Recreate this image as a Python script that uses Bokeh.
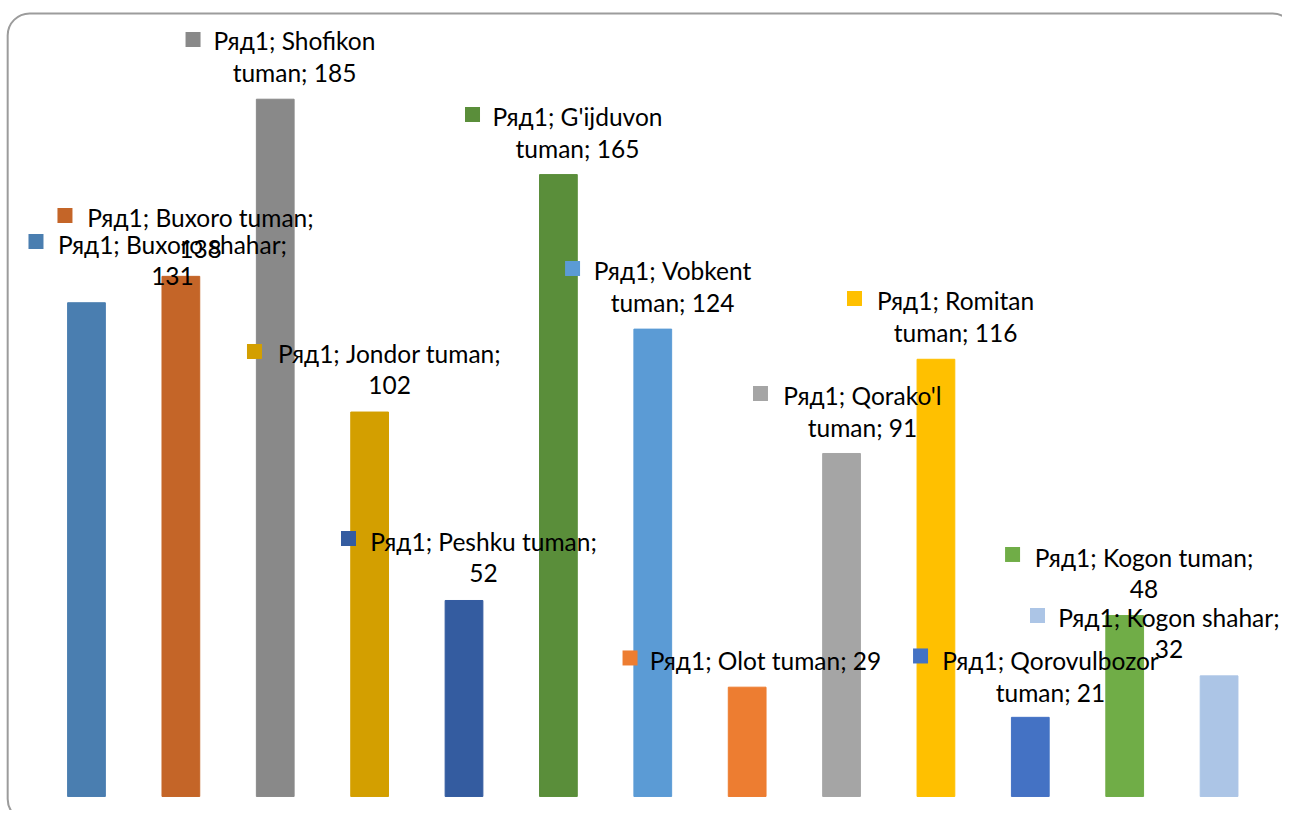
from bokeh.plotting import figure
from bokeh.models import ColumnDataSource, Range1d, BoxAnnotation
from bokeh.core.properties import value
from bokeh.embed import file_html
from bokeh.resources import INLINE

# ---- data ----
categories = ["Buxoro shahar", "Buxoro tuman", "Shofikon tuman", "Jondor tuman",
              "Peshku tuman", "G'ijduvon tuman", "Vobkent tuman", "Olot tuman",
              "Qorako'l tuman", "Romitan tuman", "Qorovulbozor tuman",
              "Kogon tuman", "Kogon shahar"]
values = [131, 138, 185, 102, 52, 165, 124, 29, 91, 116, 21, 48, 32]
series_name = "Ряд1"
colors = ["#4A7EB0", "#C46528", "#898989", "#D39F00", "#345CA0", "#5A8E3A",
          "#5B9BD5", "#ED7D31", "#A5A5A5", "#FFC000", "#4472C4", "#70AD47", "#ACC5E6"]

# label text lines (as wrapped in the reference)
label_line1 = ["Ряд1; Buxoro shahar;", "Ряд1; Buxoro tuman;", "Ряд1; Shofikon",
               "Ряд1; Jondor tuman;", "Ряд1; Peshku tuman;", "Ряд1; G'ijduvon",
               "Ряд1; Vobkent", "Ряд1; Olot tuman; 29", "Ряд1; Qorako'l",
               "Ряд1; Romitan", "Ряд1; Qorovulbozor", "Ряд1; Kogon tuman;",
               "Ряд1; Kogon shahar;"]
label_line2 = ["131", "138", "tuman; 185", "102", "52", "tuman; 165", "tuman; 124",
               "", "tuman; 91", "tuman; 116", "tuman; 21", "48", "32"]

# label positions (data units): text centre x, first line y, key square x/y
label_cx = [0.911, 1.208, 2.204, 3.211, 4.207, 5.202, 6.209, 7.194, 8.222, 9.208, 10.214, 11.205, 11.469]
label_y1 = [146.46, 153.62, 200.58, 117.54, 67.66, 180.42, 139.56, 36.08, 106.39, 131.60, 36.08, 63.41, 47.49]
key_x = [-0.535, -0.228, 1.129, 1.780, 2.776, 4.090, 5.150, 5.759, 7.141, 8.137, 8.837, 9.812, 10.076]
key_y = [147.25, 154.15, 200.85, 118.07, 68.45, 180.95, 140.09, 36.75, 106.92, 132.13, 37.28, 64.21, 48.02]

LINE_GAP = 8.49  # 32 px in data units

W, H = 1282, 810
p = figure(width=W, height=H, output_backend="svg", toolbar_location=None,
           x_range=Range1d(-0.911, 12.672), y_range=Range1d(-3.72, 211.19),
           min_border=0, min_border_left=0, min_border_right=0,
           min_border_top=0, min_border_bottom=0)
p.axis.visible = False
p.grid.visible = False
p.outline_line_color = None
p.background_fill_color = "white"
p.border_fill_color = "white"

xs = list(range(len(categories)))
src = ColumnDataSource(dict(x=xs, top=values, color=colors, cat=categories))
p.vbar(x="x", top="top", bottom=0, width=0.4, color="color", source=src)

font = value("Lato")
fs = "24.5px"
lsrc = ColumnDataSource(dict(
    cx=label_cx, y1=label_y1, y2=[y - LINE_GAP for y in label_y1],
    l1=label_line1, l2=label_line2, kx=key_x, ky=key_y, color=colors))
p.text(x="cx", y="y1", text="l1", source=lsrc, text_align="center",
       text_baseline="middle", text_font=font, text_font_size=fs, text_color="#000000")
p.text(x="cx", y="y2", text="l2", source=lsrc, text_align="center",
       text_baseline="middle", text_font=font, text_font_size=fs, text_color="#000000")
p.scatter(x="kx", y="ky", source=lsrc, marker="square", size=15,
          fill_color="color", line_color=None)

border = BoxAnnotation(left=-0.835, right=12.80, top=207.75, bottom=-6.5,
                       fill_alpha=0, line_color="#9c9c9c", line_alpha=1.0,
                       line_width=2, border_radius=22)
p.add_layout(border)

open("out.html", "w").write(file_html(p, INLINE))
